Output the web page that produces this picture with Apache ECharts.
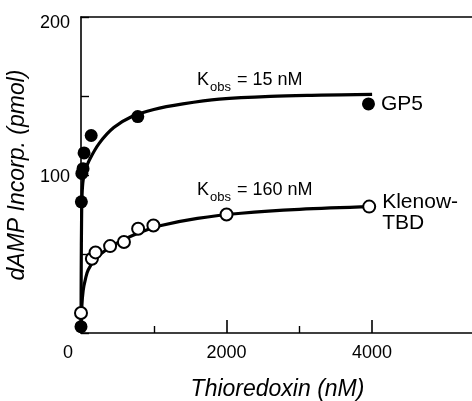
<!DOCTYPE html>
<html><head><meta charset="utf-8">
<script src="https://cdn.jsdelivr.net/npm/echarts@6/dist/echarts.min.js"></script>
<style>html,body{margin:0;padding:0;background:#fff}#c{width:472px;height:401px}</style>
</head><body><div id="c"></div>
<script>
// Measured data points (Thioredoxin nM, dAMP pmol)
const gp5X = [0, 5, 12, 28, 42, 140, 780, 3950];
const gp5Y = [4, 83, 101, 104, 114, 125, 137, 145];
const klenowX = [0, 150, 200, 400, 590, 785, 995, 2000, 3960];
const klenowY = [12.7, 47, 51, 55, 57.6, 66, 68, 75, 80];
// Fitted curves
const gp5CurveX = [0, 3, 8, 15, 30, 60, 110, 250, 450, 700, 1000, 1400, 1900, 2600, 3300, 4000];
const gp5CurveY = [0, 40, 72, 88, 97, 103, 109, 120, 130, 137, 141.5, 145, 148, 149.8, 150.5, 151];
const klenowCurveX = [0, 10, 30, 60, 100, 220, 500, 800, 1100, 1600, 2200, 3000, 4000];
const klenowCurveY = [0, 16, 27, 34, 40, 48, 57, 63.5, 68, 72.5, 75.8, 78.3, 80];
const xLabelValues = [0, 2000, 4000];
const xMajorTicks = [2000, 4000];
const xMinorTicks = [1000, 3000];
const yLabelValues = [100, 200];
const xTitle = 'Thioredoxin (nM)';
const yTitle = 'dAMP Incorp. (pmol)';
const gp5Name = 'GP5';
const klenowName = 'Klenow-\nTBD';
const gp5K = '15 nM';
const klenowK = '160 nM';

const zip = (a, b) => a.map((v, i) => [v, b[i]]);
const FONT = '"Liberation Sans", Arial, Helvetica, sans-serif';
const chart = echarts.init(document.getElementById('c'));
const kRich = {
  a: {fontSize: 18, fontFamily: FONT, color: '#000', lineHeight: 22, verticalAlign: 'bottom'},
  b: {fontSize: 13, fontFamily: FONT, color: '#000', lineHeight: 22, verticalAlign: 'bottom', padding: [0, 1, -5, 1]}
};
chart.setOption({
  animation: false,
  backgroundColor: '#fff',
  grid: {left: 81, top: 17, width: 393, height: 316, containLabel: false, outerBoundsMode: 'none'},
  xAxis: [{
    type: 'value', min: 0, max: 5400, interval: 1000,
    axisLine: {show: true, onZero: false, lineStyle: {color: '#000', width: 1.6}},
    axisTick: {show: true, inside: true, length: 13, customValues: xMajorTicks, lineStyle: {color: '#000', width: 1.6}},
    axisLabel: {customValues: xLabelValues, margin: 11, fontSize: 18, fontFamily: FONT, color: '#000',
      formatter: v => v === 0 ? '{z|0}' : String(v),
      rich: {z: {fontSize: 18, fontFamily: FONT, color: '#000', padding: [0, 26, 0, 0]}}},
    splitLine: {show: false},
    name: xTitle, nameLocation: 'middle', nameGap: 45,
    nameTextStyle: {fontSize: 23, fontStyle: 'italic', fontFamily: FONT, color: '#000'}
  }, {
    type: 'value', min: 0, max: 5400, interval: 1000, position: 'bottom',
    axisLine: {show: false},
    axisTick: {show: true, inside: true, length: 7, customValues: xMinorTicks, lineStyle: {color: '#000', width: 1.4}},
    axisLabel: {show: false}, splitLine: {show: false}
  }, {
    type: 'value', min: 0, max: 5400, position: 'top',
    axisLine: {show: true, lineStyle: {color: '#000', width: 1.6}},
    axisTick: {show: false}, axisLabel: {show: false}, splitLine: {show: false}
  }],
  yAxis: {
    type: 'value', min: 0, max: 200, interval: 50,
    axisLine: {show: true, lineStyle: {color: '#000', width: 1.6}},
    axisTick: {show: true, inside: true, length: 8, lineStyle: {color: '#000', width: 1.4}},
    axisLabel: {customValues: yLabelValues, margin: 11, fontSize: 18, fontFamily: FONT, color: '#000',
      formatter: v => v === 200 ? '{t|200}' : '{h|' + v + '}',
      rich: {t: {fontSize: 18, fontFamily: FONT, color: '#000', padding: [12, 0, 0, 0]},
             h: {fontSize: 18, fontFamily: FONT, color: '#000', padding: [4, 0, 0, 0]}}},
    splitLine: {show: false},
    name: yTitle, nameLocation: 'middle', nameGap: 43,
    nameTextStyle: {fontSize: 23, fontStyle: 'italic', fontFamily: FONT, color: '#000'}
  },
  series: [
    {type: 'line', data: zip(gp5CurveX, gp5CurveY), smooth: 0.35, showSymbol: false, symbol: 'none',
      lineStyle: {color: '#000', width: 3.2}, z: 2},
    {type: 'line', data: zip(klenowCurveX, klenowCurveY), smooth: 0.35, showSymbol: false, symbol: 'none',
      lineStyle: {color: '#000', width: 3.2}, z: 2},
    {type: 'scatter', data: zip(gp5X, gp5Y).map((p, i, arr) => i === arr.length - 1 ?
        {value: p, label: {show: true, position: 'right', distance: 6, formatter: gp5Name, fontSize: 21, fontFamily: FONT, color: '#000'}} : p),
      symbol: 'circle', symbolSize: 13, itemStyle: {color: '#000', opacity: 1}, z: 5},
    {type: 'scatter', data: zip(klenowX, klenowY).map((p, i, arr) => i === arr.length - 1 ?
        {value: p, label: {show: true, position: 'right', distance: 6, formatter: klenowName, fontSize: 21, lineHeight: 21, fontFamily: FONT, color: '#000', align: 'left', verticalAlign: 'top', offset: [0, -15]}} : p),
      symbol: 'circle', symbolSize: 12, itemStyle: {color: '#fff', borderColor: '#000', borderWidth: 2, opacity: 1}, z: 5}
  ],
  graphic: [
    {type: 'text', x: 197, y: 89, style: {text: '{a|K}{b|obs}{a| = ' + gp5K + '}', rich: kRich, verticalAlign: 'bottom'}},
    {type: 'text', x: 197, y: 199, style: {text: '{a|K}{b|obs}{a| = ' + klenowK + '}', rich: kRich, verticalAlign: 'bottom'}}
  ]
});
</script></body></html>
